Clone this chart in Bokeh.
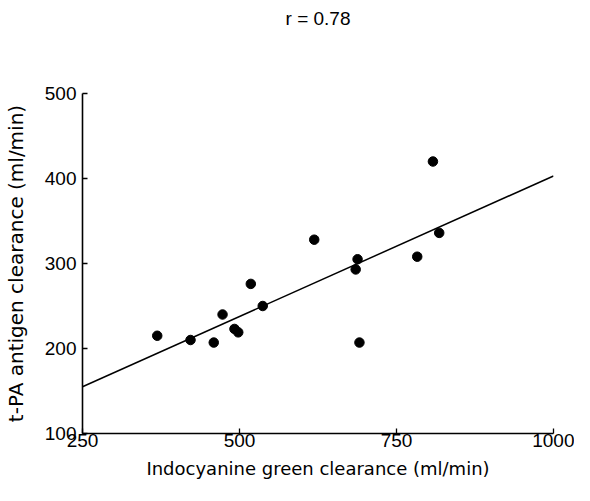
from bokeh.plotting import figure
from bokeh.models import Range1d, FixedTicker
from bokeh.embed import file_html
from bokeh.resources import INLINE

# data
icg_clearance = [369, 422, 459, 473, 492, 498, 518, 537, 619, 685, 688, 691, 783, 808, 818]
tpa_clearance = [215, 210, 207, 240, 223, 219, 276, 250, 328, 293, 305, 207, 308, 420, 336]
fit_x = [250, 1000]
fit_y = [155, 403]
x_ticks = [250, 500, 750, 1000]
y_ticks = [100, 200, 300, 400, 500]
title_text = "r = 0.78"

p = figure(width=574, height=485, output_backend="svg", toolbar_location=None,
           x_range=Range1d(250, 1000), y_range=Range1d(100, 500),
           min_border_left=81, min_border_right=21, min_border_top=93, min_border_bottom=52)
p.outline_line_color = None
p.xgrid.visible = False
p.ygrid.visible = False
p.background_fill_color = "white"
p.border_fill_color = "white"

# trailing empty lines push the single visible title line towards the top edge
p.title.text = title_text + "\n\n\n"
p.title.align = "center"
p.title.offset = 10
p.title.standoff = 3
p.title.text_font = "Liberation Sans"
p.title.text_font_size = "19px"
p.title.text_font_style = "normal"
p.title.text_color = "black"

p.line(fit_x, fit_y, line_color="black", line_width=1.5)
p.scatter(icg_clearance, tpa_clearance, size=9.5, fill_color="black", line_color="black")

for ax in (p.xaxis[0], p.yaxis[0]):
    ax.axis_line_color = "black"
    ax.axis_line_width = 1.6
    ax.major_tick_line_color = "black"
    ax.major_tick_line_width = 1.3
    ax.major_tick_in = 5
    ax.major_tick_out = 0
    ax.minor_tick_line_color = None
    ax.major_label_text_font = "Liberation Sans"
    ax.major_label_text_font_size = "19px"
    ax.major_label_text_color = "black"
    ax.axis_label_text_font = "DejaVu Sans"
    ax.axis_label_text_font_style = "normal"
    ax.axis_label_text_color = "black"

p.xaxis.ticker = FixedTicker(ticks=x_ticks)
p.yaxis.ticker = FixedTicker(ticks=y_ticks)
p.xaxis.major_label_standoff = 0
p.yaxis.major_label_standoff = 6
p.xaxis.axis_label = "Indocyanine green clearance (ml/min)"
p.yaxis.axis_label = "t-PA antigen clearance (ml/min)"
p.xaxis.axis_label_text_font_size = "18px"
p.yaxis.axis_label_text_font_size = "20px"
p.xaxis.axis_label_standoff = 8
p.yaxis.axis_label_standoff = 14

open("out.html", "w").write(file_html(p, INLINE))
